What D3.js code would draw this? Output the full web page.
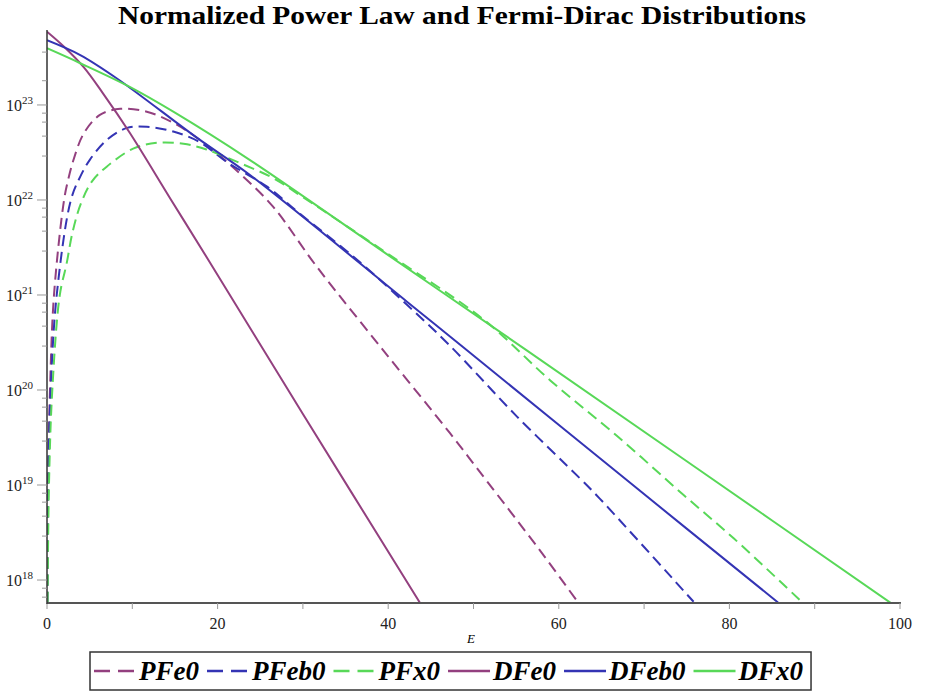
<!DOCTYPE html>
<html>
<head>
<meta charset="utf-8">
<script src="https://cdn.jsdelivr.net/npm/d3@7"></script>
<style>
  body { margin: 0; background: #fff; }
  svg { display: block; }
</style>
</head>
<body>
<svg id="chart" width="925" height="693"></svg>
<script>
// values (E on x, distribution on a log y axis)
const ePFe0 = [0.05, 0.06, 0.12, 0.35, 0.82, 2.0, 2.5, 3.1, 4.3, 6.2, 8.6, 11.7, 14.8, 17.9, 22.6, 26.5, 31.6, 39.4, 47.2, 51.5, 57.7, 62.3];
const vPFe0 = [5.8e17, 1e18, 1e19, 1e20, 1e21, 1e22, 1.66e22, 2.63e22, 5.0e22, 7.85e22, 9.1e22, 8.5e22, 6.5e22, 4.3e22, 1.9e22, 8.5e21, 2.0e21, 2.63e20, 3.55e19, 1.12e19, 2.1e18, 5.75e17];

const ePFeb0 = [0.046, 0.15, 0.43, 1.14, 2.8, 3.9, 5.0, 7.0, 9.3, 11.7, 14.8, 17.9, 21.1, 25.8, 29.7, 36, 42.2, 47.2, 55.1, 62.5, 64.8, 75.8];
const vPFeb0 = [5.8e17, 1e19, 1e20, 1e21, 1e22, 1.76e22, 2.63e22, 4.27e22, 5.7e22, 5.9e22, 5.25e22, 4.07e22, 2.5e22, 1.38e22, 7.1e21, 2.5e21, 7.9e20, 2.95e20, 5.25e19, 1.17e19, 7.2e18, 5.9e17];

const ePFx0 = [0.07, 0.23, 0.62, 1.5, 2.3, 3.0, 4.0, 5.3, 7.0, 10.1, 12.9, 16.0, 18.7, 22.6, 26.5, 30, 40, 51.2, 59.0, 66.8, 74.6, 80.5, 88.6];
const vPFx0 = [5.8e17, 1e19, 1e20, 1e21, 2.14e21, 4.6e21, 9.3e21, 1.58e22, 2.24e22, 3.47e22, 4.0e22, 3.9e22, 3.4e22, 2.45e22, 1.7e22, 1.07e22, 2.7e21, 5.5e20, 1.26e20, 3.3e19, 7.9e18, 2.75e18, 5.75e17];

const eDFe0 = [0, 2, 4.3, 6.5, 9.7, 14.5, 19.1, 30, 43.7];
const vDFe0 = [5.9e23, 4.1e23, 2.5e23, 1.35e23, 5.1e22, 1.02e22, 2.2e21, 5.6e19, 5.8e17];

const eDFeb0 = [0, 3.9, 8.2, 17.6, 23.8, 42.2, 48.8, 68, 85.7];
const vDFeb0 = [4.8e23, 3.35e23, 1.9e23, 4.5e22, 1.83e22, 8.5e20, 2.82e20, 1.12e19, 5.8e17];

const eDFx0 = [0, 3.9, 9.7, 15, 23.8, 40, 56.2, 75, 98.9];
const vDFx0 = [3.95e23, 2.75e23, 1.55e23, 8.3e22, 2.63e22, 2.63e21, 2.63e20, 1.78e19, 5.75e17];

const xTicks = [0, 20, 40, 60, 80, 100];
const xMinor = [10, 30, 50, 70, 90];
const yExponents = [18, 19, 20, 21, 22, 23];
const yMinorMult = [2.9, 4.7, 6.6, 8.2];
const yMinorTop = [1.8e23, 3.6e23];

const seriesNames = ["PFe0", "PFeb0", "PFx0", "DFe0", "DFeb0", "DFx0"];
const seriesE = [ePFe0, ePFeb0, ePFx0, eDFe0, eDFeb0, eDFx0];
const seriesV = [vPFe0, vPFeb0, vPFx0, vDFe0, vDFeb0, vDFx0];

const purple = "#93407f", blue = "#3434b4", green = "#58d858";
const colors = [purple, blue, green, purple, blue, green];
const dashed = [true, true, true, false, false, false];

const svg = d3.select("#chart");
const x = d3.scaleLinear().domain([0, 100]).range([47, 900]);
const y = d3.scaleLog().domain([5.73e17, 5.86e23]).range([603, 32]);

// title
svg.append("text")
  .attr("x", 462).attr("y", 24)
  .attr("text-anchor", "middle")
  .attr("textLength", 688)
  .attr("lengthAdjust", "spacingAndGlyphs")
  .style("font-family", "'Liberation Serif', 'Times New Roman', serif")
  .style("font-weight", "bold")
  .style("font-size", "26px")
  .text("Normalized Power Law and Fermi-Dirac Distributions");

svg.append("clipPath").attr("id", "clip")
  .append("rect").attr("x", 47).attr("y", 28).attr("width", 860).attr("height", 575);

// curves
const line = d3.line()
  .x(d => x(d[0]))
  .y(d => y(d[1]))
  .curve(d3.curveCatmullRom.alpha(0.5));

const plot = svg.append("g").attr("clip-path", "url(#clip)");
seriesNames.forEach(function(name, i) {
  const pts = seriesE[i].map((e, j) => [e, seriesV[i][j]]);
  plot.append("path")
    .datum(pts)
    .attr("d", line)
    .attr("fill", "none")
    .attr("stroke", colors[i])
    .attr("stroke-width", 2)
    .attr("stroke-dasharray", dashed[i] ? "11,6" : null);
});

// x axis
const xa = svg.append("g");
xa.append("line").attr("x1", 47).attr("x2", 901).attr("y1", 603).attr("y2", 603)
  .attr("stroke", "#555").attr("stroke-width", 2);
xa.selectAll(".xt").data(xTicks.concat(xMinor)).enter().append("line")
  .attr("x1", d => x(d)).attr("x2", d => x(d))
  .attr("y1", 603).attr("y2", 609)
  .attr("stroke", "#999").attr("stroke-width", 1);
xa.selectAll(".xl").data(xTicks).enter().append("text")
  .attr("x", d => x(d)).attr("y", 629)
  .attr("text-anchor", "middle")
  .style("font-family", "'Liberation Serif', serif")
  .style("font-size", "16px")
  .attr("fill", "#222")
  .text(d => d);
svg.append("text")
  .attr("x", 471).attr("y", 643)
  .attr("text-anchor", "middle")
  .style("font-family", "'Liberation Serif', serif")
  .style("font-style", "italic")
  .style("font-size", "13px")
  .text("E");

// y axis
const ya = svg.append("g");
ya.append("line").attr("x1", 47).attr("x2", 47).attr("y1", 30).attr("y2", 604)
  .attr("stroke", "#333").attr("stroke-width", 1.5);
let minor = yMinorTop.slice();
[17, 18, 19, 20, 21, 22].forEach(k => yMinorMult.forEach(m => minor.push(m * Math.pow(10, k))));
minor = minor.filter(v => v >= y.domain()[0] && v <= y.domain()[1]);
ya.selectAll(".ym").data(minor).enter().append("line")
  .attr("x1", 42).attr("x2", 47)
  .attr("y1", d => y(d)).attr("y2", d => y(d))
  .attr("stroke", "#999").attr("stroke-width", 1);
ya.selectAll(".yM").data(yExponents).enter().append("line")
  .attr("x1", 37).attr("x2", 47)
  .attr("y1", d => y(Math.pow(10, d))).attr("y2", d => y(Math.pow(10, d)))
  .attr("stroke", "#999").attr("stroke-width", 1);
const yl = ya.selectAll(".yl").data(yExponents).enter().append("text")
  .attr("x", 6).attr("y", d => y(Math.pow(10, d)) + 6)
  .style("font-family", "'Liberation Serif', serif")
  .style("font-size", "16px")
  .attr("fill", "#222");
yl.append("tspan").text("10");
yl.append("tspan").attr("dy", -7).style("font-size", "11px").text(d => d);

// legend
const lg = svg.append("g");
let cx = 94;
const ly = 671;
seriesNames.forEach(function(name, i) {
  lg.append("line")
    .attr("x1", cx).attr("x2", cx + 42)
    .attr("y1", ly).attr("y2", ly)
    .attr("stroke", colors[i]).attr("stroke-width", 2.5)
    .attr("stroke-dasharray", dashed[i] ? "16,8" : null);
  cx += 45;
  const t = lg.append("text")
    .attr("x", cx).attr("y", ly + 9)
    .style("font-family", "'Liberation Serif', 'Times New Roman', serif")
    .style("font-weight", "bold")
    .style("font-style", "italic")
    .style("font-size", "27px")
    .text(name);
  cx += t.node().getComputedTextLength() + 8;
});
lg.insert("rect", ":first-child")
  .attr("x", 90).attr("y", 652)
  .attr("width", cx - 90).attr("height", 38)
  .attr("fill", "#fff")
  .attr("stroke", "#333").attr("stroke-width", 1.5);
</script>
</body>
</html>
